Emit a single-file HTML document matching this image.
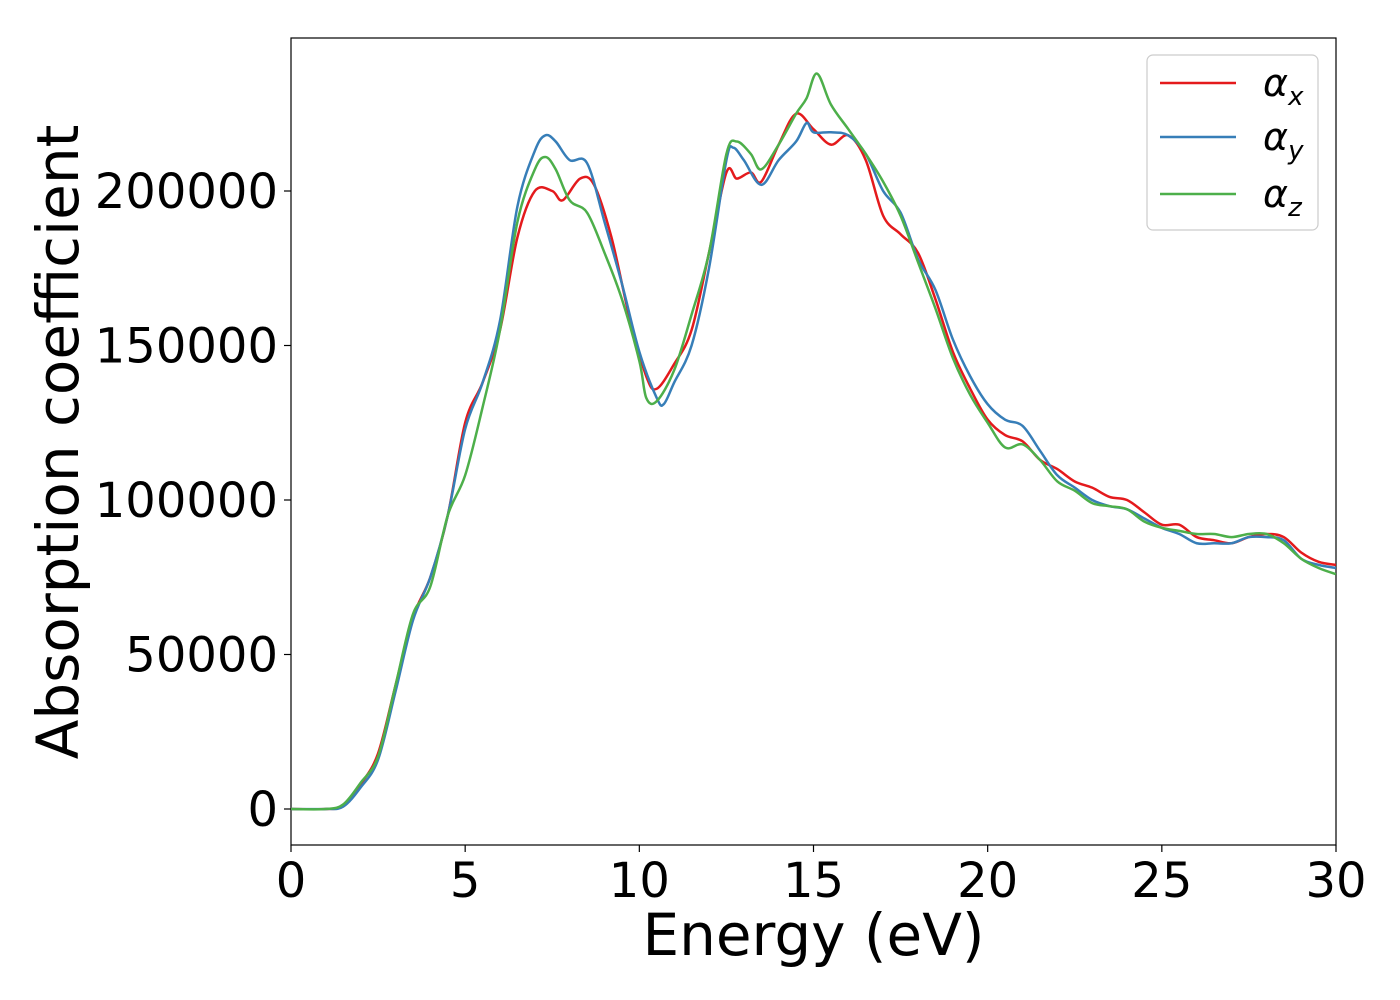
<!DOCTYPE html>
<html><head><meta charset="utf-8"><style>
html,body{margin:0;padding:0;background:#fff;}
svg{display:block;font-family:"DejaVu Sans","Liberation Sans",sans-serif;}
</style></head><body>
<svg id="chart" width="1400" height="1000">
<g id="axes"></g>
<g id="series"></g>
<g id="legend"></g>
</svg>
<script>
const xTicks=[0,5,10,15,20,25,30];
const yTicks=[0,50000,100000,150000,200000];
const seriesNames=['αx','αy','αz'];
const xE=[0,1,1.5,2,2.5,3,3.5,4,4.5,5,5.5,6,6.5,7,7.5,7.8,8.3,8.7,9.2,9.7,10.2,10.5,11,11.5,12,12.5,12.8,13.2,13.5,14,14.5,15,15.5,16,16.5,17,17.5,18,18.5,19,19.5,20,20.5,21,21.5,22,22.5,23,23.5,24,24.5,25,25.5,26,26.5,27,27.5,28,28.5,29,29.5,30];
const xV=[0,0,1000,8000,18000,40000,62000,75000,95000,125000,138000,155000,185000,200000,200000,197000,204000,202000,185000,160000,140000,136000,144000,155000,180000,206000,204000,206000,203000,215000,225000,220000,215000,218000,210000,192000,186000,180000,165000,148000,136000,126000,121000,119000,113000,110000,106000,104000,101000,100000,96000,92000,92000,88000,87000,86000,88000,89000,88000,83000,80000,79000];
const yE=[0,1,1.5,2,2.5,3,3.5,4,4.5,5,5.5,6,6.5,7,7.3,7.6,8,8.5,9,9.5,10,10.5,10.7,11,11.5,12,12.5,12.7,13,13.5,14,14.5,14.8,15,15.5,16,16.5,17,17.5,18,18.5,19,19.5,20,20.5,21,21.5,22,22.5,23,23.5,24,24.5,25,25.5,26,26.5,27,27.5,28,28.5,29,29.5,30];
const yV=[0,0,800,7000,16000,38000,61000,75000,95000,123000,138000,158000,195000,213000,218000,216000,210000,209000,190000,170000,148000,133000,131000,138000,150000,175000,210000,214000,210000,202000,210000,216000,222000,219000,219000,218000,212000,200000,193000,178000,168000,152000,140000,131000,126000,124000,116000,108000,104000,100000,98000,97000,94000,91000,89000,86000,86000,86000,88000,88000,87000,81000,79000,78000];
const zE=[0,1,1.5,2,2.5,3,3.5,4,4.5,5,5.5,6,6.5,7,7.3,7.6,8,8.5,9,9.5,10,10.2,10.5,11,11.5,12,12.5,12.8,13.2,13.5,14,14.5,14.8,15.1,15.5,16,16.5,17,17.5,18,18.5,19,19.5,20,20.5,21,21.5,22,22.5,23,23.5,24,24.5,25,25.5,26,26.5,27,27.5,28,28.5,29,29.5,30];
const zV=[0,0,1500,8500,17000,40000,63000,72000,95000,108000,130000,155000,190000,207000,211000,207000,197000,193000,180000,165000,145000,133000,132000,142000,160000,180000,212000,216000,212000,207000,215000,225000,230000,238000,228000,220000,212000,203000,192000,177000,162000,146000,134000,125000,117000,118000,113000,106000,103000,99000,98000,97000,93000,91000,90000,89000,89000,88000,89000,89000,86000,81000,78000,76000];
const colors=['#e41a1c','#377eb8','#4daf4a'];
const L=291,R=1336,T=38,B=845;
const X=v=>L+(v-0)/30*(R-L);
const Y=v=>809-v*0.00309;
const NS='http://www.w3.org/2000/svg';
function mk(tag,attrs,parent,text){const e=document.createElementNS(NS,tag);for(const k in attrs)e.setAttribute(k,attrs[k]);if(text!==undefined)e.textContent=text;parent.appendChild(e);return e;}
const axes=document.getElementById('axes');
const frame=mk('rect',{x:L,y:T,width:R-L,height:B-T,fill:'none',stroke:'#000','stroke-width':1.2},axes);


xTicks.forEach(t=>{
  const ln=mk('line',{x1:X(t),x2:X(t),y1:B,y2:B+7,stroke:'#000','stroke-width':1.2},axes);
  
  
  const tx=mk('text',{x:X(t),y:B+52,'font-size':48,'text-anchor':'middle'},axes,String(t));
  
  
});
yTicks.forEach(t=>{
  const ln=mk('line',{x1:L-7,x2:L,y1:Y(t),y2:Y(t),stroke:'#000','stroke-width':1.2},axes);
  
  
  const tx=mk('text',{x:L-13,y:Y(t)+17,'font-size':48,'text-anchor':'end'},axes,String(t));
  
  
});
const xl=mk('text',{x:(L+R)/2,y:955,'font-size':58,'text-anchor':'middle'},axes,'Energy (eV)');


const yl=mk('text',{x:0,y:0,'font-size':58,'text-anchor':'middle',transform:'translate(78,442) rotate(-90)'},axes,'Absorption coefficient');


function path(es,vs){
  const p=es.map((e,i)=>[X(e),Y(vs[i])]);
  let d='M'+p[0][0]+','+p[0][1];
  for(let i=0;i<p.length-1;i++){
    const p0=p[Math.max(0,i-1)],p1=p[i],p2=p[i+1],p3=p[Math.min(p.length-1,i+2)];
    const c1=[p1[0]+(p2[0]-p0[0])/6,p1[1]+(p2[1]-p0[1])/6];
    const c2=[p2[0]-(p3[0]-p1[0])/6,p2[1]-(p3[1]-p1[1])/6];
    d+=`C${c1[0]},${c1[1]} ${c2[0]},${c2[1]} ${p2[0]},${p2[1]}`;
  }
  return d;
}
const ser=document.getElementById('series');
const data=[[xE,xV],[yE,yV],[zE,zV]];
const sn=['series-alpha-x','series-alpha-y','series-alpha-z'];
data.forEach((d,i)=>{
  const pe=mk('path',{d:path(d[0],d[1]),fill:'none',stroke:colors[i],'stroke-width':2.5,'clip-path':'url(#clip)'},ser);
  
  
});
const defs=mk('defs',{},document.getElementById('chart'));
const cp=mk('clipPath',{id:'clip'},defs);
mk('rect',{x:L,y:T,width:R-L,height:B-T},cp);
const lg=document.getElementById('legend');


mk('rect',{x:1147,y:55,width:171,height:175,rx:6,fill:'#fff','fill-opacity':0.8,stroke:'#ccc','stroke-width':1.2},lg);
const ly=[83,137,194];const subs=['x','y','z'];
seriesNames.forEach((n,i)=>{
  const ln=mk('line',{x1:1160,x2:1236,y1:ly[i],y2:ly[i],stroke:colors[i],'stroke-width':2.5},lg);
  
  
  const t=mk('text',{x:1263,y:ly[i]+13,'font-size':38,'font-style':'italic'},lg);
  
  
  t.appendChild(document.createTextNode('α'));
  mk('tspan',{dy:9,'font-size':26},t,subs[i]);
});
</script>
</body></html>
